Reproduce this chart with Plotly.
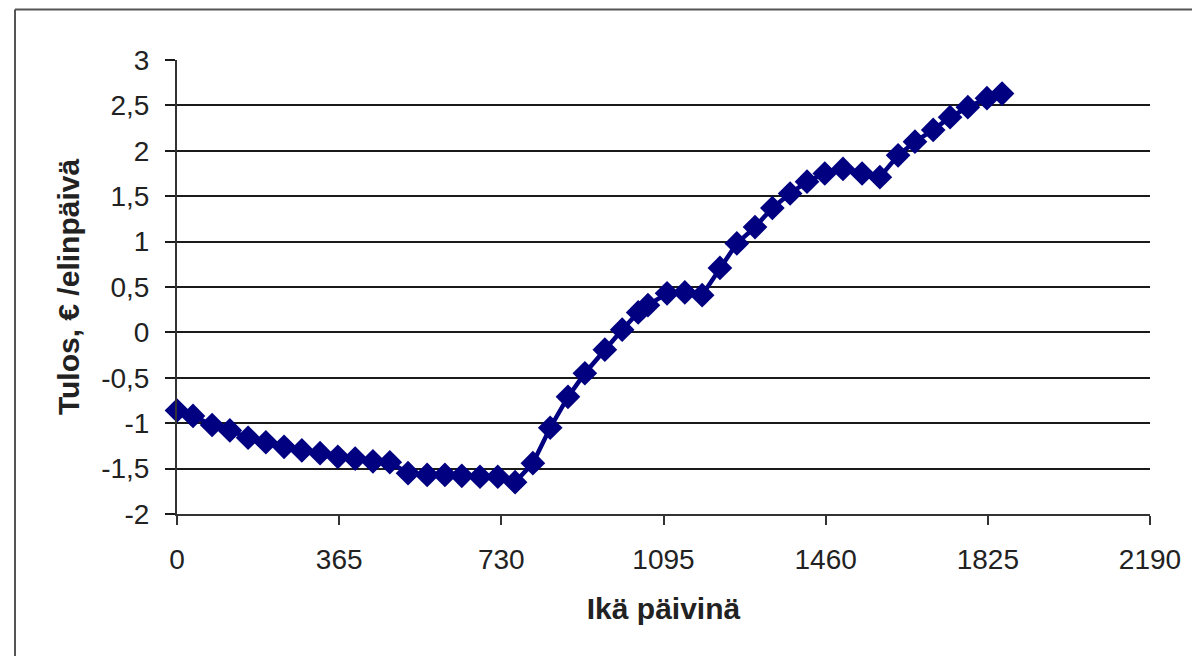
import plotly.graph_objects as go

# Age in days and result (€ / day of life)
age_days = [0, 36, 79, 119, 160, 200, 241, 281, 322, 362, 401, 441, 479,
            520, 563, 603, 641, 682, 722, 761, 801, 840, 880, 918, 963,
            1002, 1038, 1060, 1103, 1143, 1182, 1222, 1260, 1301, 1340,
            1380, 1418, 1458, 1499, 1542, 1582, 1623, 1661, 1702, 1740,
            1780, 1823, 1857]
result = [-0.86, -0.92, -1.02, -1.08, -1.16, -1.21, -1.26, -1.30, -1.33,
          -1.37, -1.39, -1.42, -1.43, -1.55, -1.57, -1.57, -1.58, -1.59,
          -1.59, -1.65, -1.44, -1.05, -0.71, -0.45, -0.19, 0.03, 0.22,
          0.30, 0.43, 0.44, 0.41, 0.71, 0.98, 1.16, 1.37, 1.53, 1.66,
          1.75, 1.80, 1.75, 1.71, 1.95, 2.10, 2.23, 2.37, 2.48, 2.58, 2.63]

x_tickvals = [0, 365, 730, 1095, 1460, 1825, 2190]
x_ticktext = ["0", "365", "730", "1095", "1460", "1825", "2190"]
y_tickvals = [-2, -1.5, -1, -0.5, 0, 0.5, 1, 1.5, 2, 2.5, 3]
y_ticktext = ["-2", "-1,5", "-1", "-0,5", "0", "0,5", "1", "1,5", "2", "2,5", "3"]

x_title = "Ikä päivinä"
y_title = "Tulos, € /elinpäivä"

FONT = "Liberation Sans, Arial, sans-serif"
NAVY = "#000080"
BORDER = dict(color="#555555", width=2)

fig = go.Figure()
fig.add_trace(go.Scatter(
    x=age_days, y=result, mode="lines+markers",
    line=dict(color=NAVY, width=4.5),
    marker=dict(symbol="diamond", size=19, color=NAVY),
    showlegend=False, cliponaxis=False,
))

# outer chart frame (only top and left edges are visible in the reference)
fx0 = (15 - 177) / 973
fx1 = (1200 - 177) / 973
fy0 = (514 - 664) / 454
fy1 = (514 - 9.5) / 454

fig.update_layout(
    width=1184, height=648,
    margin=dict(l=169, r=42, t=52, b=142),
    paper_bgcolor="white", plot_bgcolor="white",
    font=dict(family=FONT, size=28, color="#222222"),
    xaxis=dict(
        range=[0, 2190], tickvals=x_tickvals, ticktext=x_ticktext,
        showgrid=False, zeroline=False,
        showline=True, linecolor="#333333", linewidth=2,
        ticks="outside", ticklen=9, tickwidth=2, tickcolor="#333333",
        ticklabelstandoff=10,
        tickfont=dict(family=FONT, size=28, color="#222222"),
        title=dict(text="<b>" + x_title + "</b>", standoff=24,
                   font=dict(family=FONT, size=30, color="#222222")),
    ),
    yaxis=dict(
        range=[-2, 3], tickvals=y_tickvals, ticktext=y_ticktext,
        showgrid=True, gridcolor="#1a1a1a", gridwidth=2,
        zeroline=False,
        showline=True, linecolor="#333333", linewidth=2,
        ticks="outside", ticklen=10, tickwidth=2, tickcolor="#1a1a1a",
        ticklabelstandoff=10,
        tickfont=dict(family=FONT, size=28, color="#222222"),
        title=dict(text="<b>" + y_title + "</b>", standoff=13,
                   font=dict(family=FONT, size=30, color="#222222")),
    ),
    shapes=[
        dict(type="line", xref="paper", yref="paper",
             x0=fx0, x1=fx1, y0=fy1, y1=fy1, line=BORDER, layer="below"),
        dict(type="line", xref="paper", yref="paper",
             x0=fx0, x1=fx0, y0=fy0, y1=fy1, line=BORDER, layer="below"),
    ],
)

fig.write_html("out.html")
